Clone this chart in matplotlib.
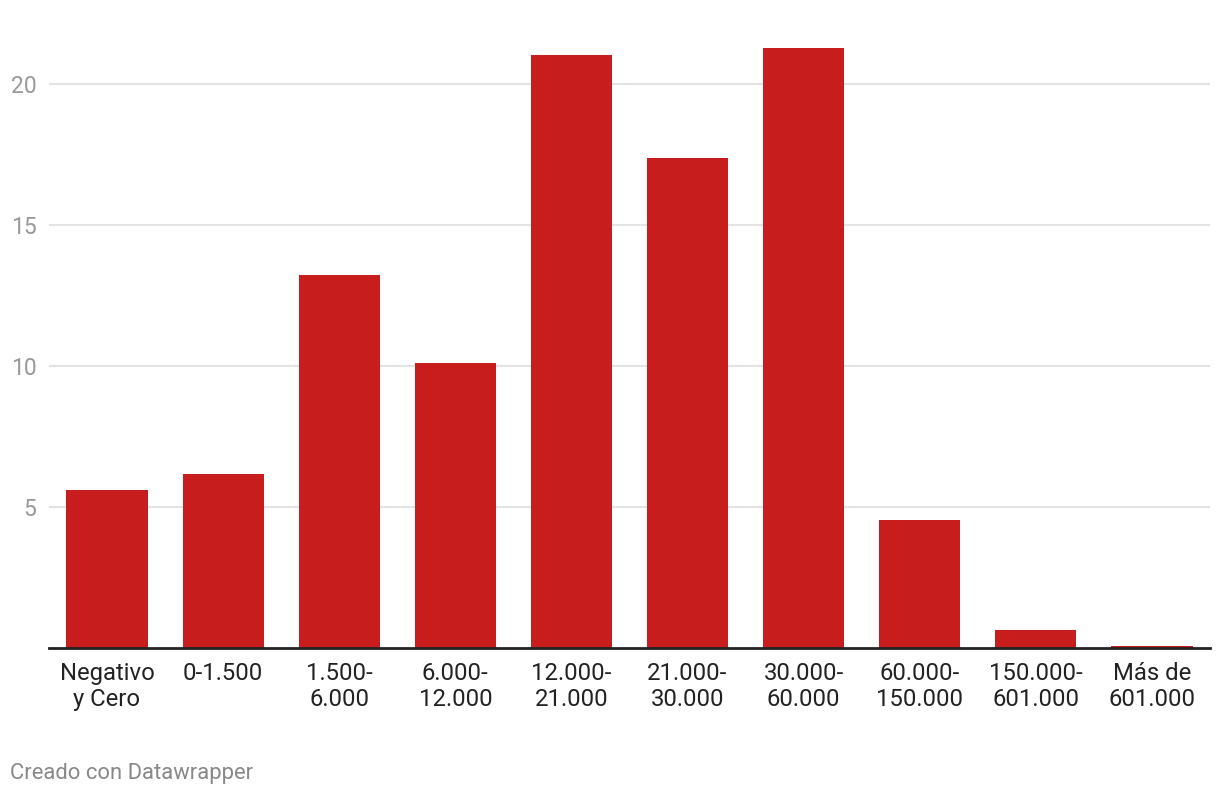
import matplotlib.pyplot as plt

# Tramos de renta (euros) y porcentaje de declarantes
categories = ['Negativo\ny Cero', '0-1.500', '1.500-\n6.000', '6.000-\n12.000',
              '12.000-\n21.000', '21.000-\n30.000', '30.000-\n60.000',
              '60.000-\n150.000', '150.000-\n601.000', 'Más de\n601.000']
values = [5.6, 6.17, 13.23, 10.11, 21.03, 17.38, 21.28, 4.54, 0.64, 0.07]
y_ticks = [5, 10, 15, 20]

plt.rcParams['font.family'] = ['Roboto', 'DejaVu Sans']

fig = plt.figure(figsize=(12.2, 7.96), dpi=100)
ax = fig.add_axes([49 / 1220, 1 - 648 / 796, (1210 - 49) / 1220, (648 - 19) / 796])

x = range(len(categories))
ax.bar(x, values, width=0.7, color='#c71e1d', zorder=2)

ax.set_xlim(-0.5, len(categories) - 0.5)
ax.set_ylim(0, 22.3)

# Rejilla horizontal
ax.set_yticks(y_ticks)
ax.set_yticklabels([str(t) for t in y_ticks])
ax.grid(axis='y', color='#e3e3e3', linewidth=1.5, zorder=0)
ax.tick_params(axis='y', length=0, pad=9, labelsize=16.5, labelcolor='#999999')

ax.set_xticks(list(x))
ax.set_xticklabels(categories, linespacing=1.2)
ax.tick_params(axis='x', length=0, pad=10, labelsize=17.2, labelcolor='#222222')

for side in ['top', 'right', 'left']:
    ax.spines[side].set_visible(False)
ax.spines['bottom'].set_color('#222222')
ax.spines['bottom'].set_linewidth(2)
ax.spines['bottom'].set_zorder(3)

fig.text(10 / 1220, 1 - 773 / 796, 'Creado con Datawrapper', fontsize=15.8,
         color='#888888', va='center', ha='left')

fig.savefig('out.png', dpi=100)
